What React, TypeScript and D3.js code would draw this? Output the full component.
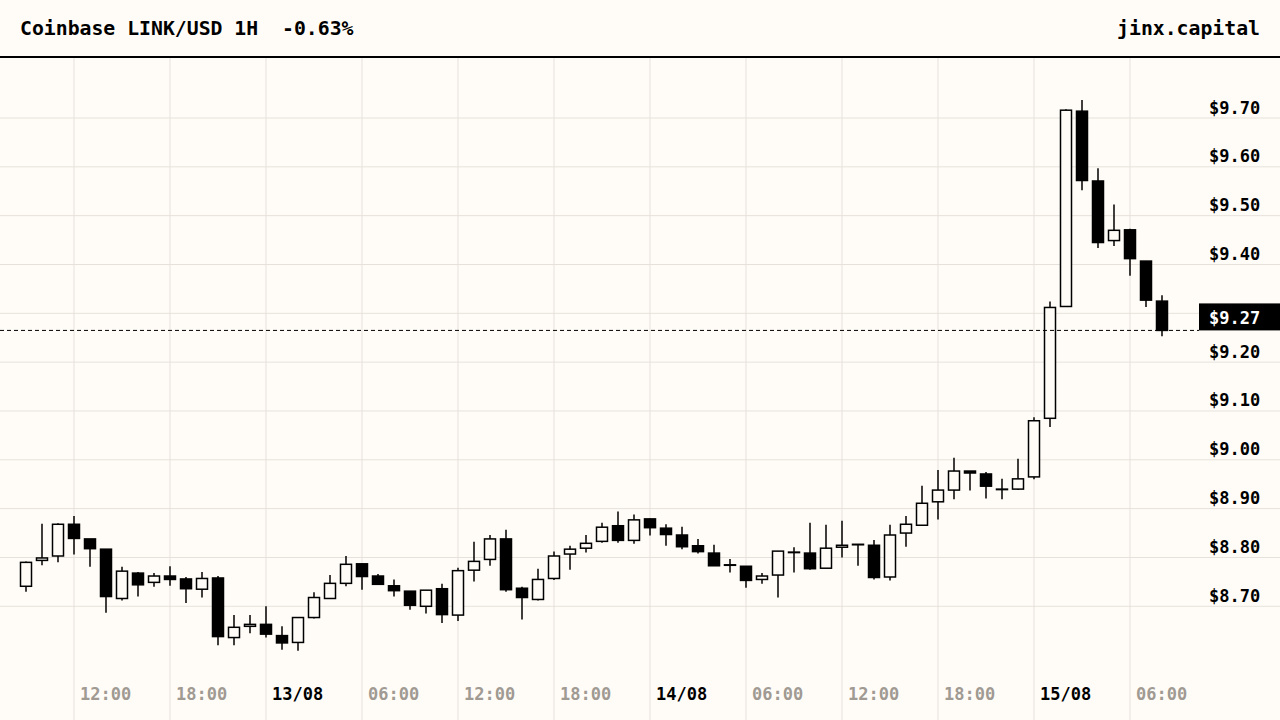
import * as d3 from "d3";

// hourly candles, 12/08 09:00 -> 15/08 08:00
const opens = [
  8.741, 8.794, 8.803, 8.868, 8.838, 8.817, 8.716, 8.768, 8.749, 8.762, 8.756, 8.735,
  8.758, 8.636, 8.659, 8.663, 8.64, 8.626, 8.677, 8.716, 8.747, 8.787, 8.762, 8.742,
  8.731, 8.7, 8.736, 8.682, 8.774, 8.796, 8.838, 8.737, 8.714, 8.757, 8.807, 8.819,
  8.833, 8.865, 8.835, 8.879, 8.86, 8.846, 8.824, 8.809, 8.785, 8.782, 8.755, 8.764,
  8.811, 8.809, 8.778, 8.821, 8.827, 8.825, 8.76, 8.85, 8.866, 8.914, 8.938, 8.977,
  8.971, 8.94, 8.94, 8.965, 9.085, 9.314, 9.714, 9.571, 9.449, 9.471, 9.407, 9.325,
];
const highs = [
  8.792, 8.869, 8.87, 8.885, 8.838, 8.817, 8.781, 8.77, 8.768, 8.782, 8.76, 8.77,
  8.762, 8.682, 8.682, 8.7, 8.659, 8.677, 8.729, 8.764, 8.803, 8.787, 8.766, 8.755,
  8.731, 8.733, 8.746, 8.779, 8.832, 8.846, 8.857, 8.74, 8.777, 8.812, 8.824, 8.846,
  8.871, 8.894, 8.888, 8.88, 8.868, 8.863, 8.838, 8.826, 8.797, 8.782, 8.768, 8.813,
  8.821, 8.871, 8.867, 8.875, 8.827, 8.836, 8.867, 8.885, 8.947, 8.979, 9.004, 8.977,
  8.975, 8.961, 9.002, 9.087, 9.324, 9.718, 9.737, 9.597, 9.523, 9.473, 9.407, 9.337,
];
const lows = [
  8.73, 8.784, 8.79, 8.806, 8.781, 8.687, 8.712, 8.72, 8.74, 8.742, 8.707, 8.718,
  8.62, 8.62, 8.645, 8.636, 8.611, 8.609, 8.675, 8.716, 8.741, 8.734, 8.745, 8.72,
  8.693, 8.685, 8.666, 8.67, 8.751, 8.783, 8.73, 8.673, 8.712, 8.754, 8.775, 8.81,
  8.83, 8.83, 8.828, 8.845, 8.824, 8.817, 8.808, 8.783, 8.769, 8.738, 8.746, 8.718,
  8.769, 8.775, 8.778, 8.8, 8.783, 8.755, 8.753, 8.822, 8.866, 8.878, 8.919, 8.937,
  8.921, 8.919, 8.938, 8.96, 9.067, 9.314, 9.552, 9.434, 9.438, 9.377, 9.313, 9.253,
];
const closes = [
  8.79, 8.799, 8.868, 8.839, 8.818, 8.72, 8.772, 8.744, 8.762, 8.755, 8.736, 8.757,
  8.638, 8.657, 8.663, 8.643, 8.625, 8.677, 8.718, 8.747, 8.786, 8.761, 8.745, 8.732,
  8.702, 8.733, 8.683, 8.773, 8.792, 8.838, 8.734, 8.718, 8.755, 8.803, 8.817, 8.829,
  8.862, 8.835, 8.877, 8.861, 8.847, 8.822, 8.812, 8.783, 8.785, 8.753, 8.762, 8.813,
  8.811, 8.777, 8.819, 8.825, 8.827, 8.759, 8.846, 8.868, 8.911, 8.938, 8.977, 8.973,
  8.946, 8.94, 8.961, 9.08, 9.312, 9.716, 9.572, 9.445, 9.47, 9.412, 9.327, 9.265,
];
const priceTicks = [8.7, 8.8, 8.9, 9.0, 9.1, 9.2, 9.3, 9.4, 9.5, 9.6, 9.7];

const title = "Coinbase LINK/USD 1H  -0.63%";
const brand = "jinx.capital";

const startTime = new Date(2022, 7, 12, 9);
const times = opens.map((_, i) => d3.timeHour.offset(startTime, i));

const width = 1280;
const height = 720;
const headerY = 57;
const bg = "#fffcf7";
const grid = "#e6e1db";
const font = "'DejaVu Sans Mono', monospace";

const App = () => {
  const x = d3
    .scaleTime()
    .domain([new Date(2022, 7, 12, 12), new Date(2022, 7, 15, 0)])
    .range([74, 1034]);
  const y = d3.scaleLinear().domain([8.7, 9.7]).range([606.3, 118]);

  const candleW = 11;
  const timeTicks = d3
    .timeHours(times[0], d3.timeHour.offset(times[times.length - 1], 1))
    .filter((t) => t.getHours() % 6 === 0);
  const fmtDay = d3.timeFormat("%d/%m");
  const fmtHour = d3.timeFormat("%H:%M");

  const last = closes[closes.length - 1];
  const lastY = y(last);
  const tagH = 27;

  return (
    <svg
      width={width}
      height={height}
      style={{ position: "absolute", left: 0, top: 0, display: "block" }}
    >
      <rect x={0} y={0} width={width} height={height} fill={bg} />

      {/* grid */}
      {timeTicks.map((t, i) => (
        <line
          key={"v" + i}
          x1={x(t)}
          x2={x(t)}
          y1={headerY}
          y2={height}
          stroke={grid}
          strokeWidth={1}
        />
      ))}
      {priceTicks.map((p, i) => (
        <line
          key={"h" + i}
          x1={0}
          x2={width}
          y1={y(p)}
          y2={y(p)}
          stroke={grid}
          strokeWidth={1}
        />
      ))}

      {/* candles */}
      {times.map((t, i) => {
        const o = opens[i];
        const c = closes[i];
        const cx = x(t);
        const up = c >= o;
        const top = y(Math.max(o, c));
        const bot = y(Math.min(o, c));
        return (
          <g key={i}>
            <line
              x1={cx}
              x2={cx}
              y1={y(highs[i])}
              y2={y(lows[i])}
              stroke="#000"
              strokeWidth={1.5}
            />
            <rect
              x={cx - candleW / 2}
              y={top}
              width={candleW}
              height={Math.max(bot - top, 0.5)}
              fill={up ? bg : "#000"}
              stroke="#000"
              strokeWidth={1.5}
            />
          </g>
        );
      })}

      {/* last price */}
      <line
        x1={0}
        x2={1199}
        y1={lastY}
        y2={lastY}
        stroke="#000"
        strokeWidth={1}
        strokeDasharray="4,3"
      />

      {/* price axis; the label under the price tag is hidden */}
      {priceTicks
        .filter((p) => {
          const ty = y(p) - 4.5;
          return ty < lastY - tagH - 2 || ty - 13 > lastY;
        })
        .map((p, i) => (
          <text
            key={"pt" + i}
            x={1209}
            y={y(p) - 4.5}
            fontFamily={font}
            fontWeight="bold"
            fontSize={17}
            fill="#000"
          >
            {"$" + p.toFixed(2)}
          </text>
        ))}
      <rect x={1199} y={lastY - tagH} width={81} height={tagH} fill="#000" />
      <text
        x={1209}
        y={lastY - 6.5}
        fontFamily={font}
        fontWeight="bold"
        fontSize={17}
        fill="#fff"
      >
        {"$" + last.toFixed(2)}
      </text>

      {/* time axis */}
      {timeTicks.map((t, i) => {
        const midnight = t.getHours() === 0;
        return (
          <text
            key={"tt" + i}
            x={x(t) + 6}
            y={700}
            fontFamily={font}
            fontWeight="bold"
            fontSize={17}
            fill={midnight ? "#000" : "#a09a93"}
          >
            {midnight ? fmtDay(t) : fmtHour(t)}
          </text>
        );
      })}

      {/* header */}
      <text
        x={20}
        y={35}
        fontFamily={font}
        fontWeight="bold"
        fontSize={19.8}
        fill="#000"
        style={{ whiteSpace: "pre" }}
      >
        {title}
      </text>
      <text
        x={1260}
        y={35}
        textAnchor="end"
        fontFamily={font}
        fontWeight="bold"
        fontSize={19.8}
        fill="#000"
      >
        {brand}
      </text>
      <line x1={0} x2={width} y1={headerY} y2={headerY} stroke="#000" strokeWidth={2} />
    </svg>
  );
};

export default App;
